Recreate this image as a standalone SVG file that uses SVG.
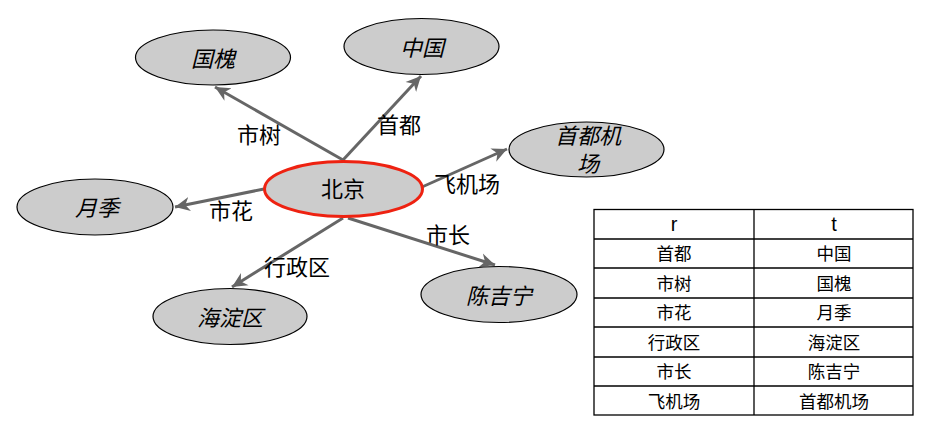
<svg xmlns="http://www.w3.org/2000/svg" width="928" height="423" viewBox="0 0 928 423">
<style>
.node ellipse{fill:#cccccc;stroke:#000;stroke-width:1.2}
.node text{font-family:"Liberation Sans","Noto Sans CJK SC",sans-serif;font-size:22px;font-style:italic;fill:#000;text-anchor:middle}
.edge{stroke:#666;stroke-width:3;fill:none;marker-end:url(#ah)}
.lbl{font-family:"Liberation Sans","Noto Sans CJK SC",sans-serif;font-size:22px;fill:#000;text-anchor:middle}
.cell{font-family:"Liberation Sans","Noto Sans CJK SC",sans-serif;font-size:17.5px;fill:#000;text-anchor:middle}
.tbl line,.tbl rect{stroke:#000;stroke-width:1.3;fill:none}
</style>
<defs>
<marker id="ah" markerWidth="6" markerHeight="6" refX="5" refY="3" orient="auto" markerUnits="strokeWidth">
<path d="M0,0.6 L5,3 L0,5.4 L1.5,3 Z" fill="#666"/>
</marker>
</defs>
<rect width="928" height="423" fill="#fff"/>
<g id="edges">
<line class="edge" x1="343" y1="160" x2="215" y2="87"/>
<line class="edge" x1="343" y1="160" x2="421" y2="76"/>
<line class="edge" x1="422" y1="187" x2="507" y2="149"/>
<line class="edge" x1="264" y1="189" x2="175" y2="207"/>
<line class="edge" x1="343" y1="218" x2="232" y2="287"/>
<line class="edge" x1="348" y1="218" x2="495" y2="265"/>
<text class="lbl" x="259" y="143">市树</text>
<text class="lbl" x="399" y="133">首都</text>
<text class="lbl" x="467" y="192">飞机场</text>
<text class="lbl" x="231" y="219">市花</text>
<text class="lbl" x="448" y="243">市长</text>
<text class="lbl" x="297" y="275">行政区</text>
</g>
<g id="n-guohuai" class="node"><ellipse cx="213" cy="57.5" rx="77.5" ry="27.5"/><text x="213" y="67">国槐</text></g>
<g id="n-zhongguo" class="node"><ellipse cx="421.5" cy="46.5" rx="77.5" ry="28"/><text x="422" y="56">中国</text></g>
<g id="n-beijing" class="node"><ellipse cx="343.5" cy="189" rx="79" ry="27.5" style="stroke:#ee2211;stroke-width:3"/><text x="343" y="197" style="font-style:normal">北京</text></g>
<g id="n-yueji" class="node"><ellipse cx="95" cy="207" rx="78" ry="28"/><text x="97" y="216">月季</text></g>
<g id="n-haidian" class="node"><ellipse cx="230" cy="316.5" rx="77" ry="28"/><text x="230" y="326">海淀区</text></g>
<g id="n-airport" class="node"><ellipse cx="586.5" cy="149.5" rx="77.5" ry="27.5"/><text x="588" y="144">首都机</text><text x="588" y="172">场</text></g>
<g id="n-chen" class="node"><ellipse cx="499" cy="294.5" rx="78" ry="28"/><text x="499" y="304">陈吉宁</text></g>
<g id="table" class="tbl">
<rect x="594" y="209.5" width="319" height="205.5"/>
<line x1="754" y1="209.5" x2="754" y2="415"/>
<line x1="594" y1="239" x2="913" y2="239"/>
<line x1="594" y1="268" x2="913" y2="268"/>
<line x1="594" y1="298" x2="913" y2="298"/>
<line x1="594" y1="327" x2="913" y2="327"/>
<line x1="594" y1="357" x2="913" y2="357"/>
<line x1="594" y1="386" x2="913" y2="386"/>
<text class="cell" x="674" y="231" style="font-size:20px">r</text><text class="cell" x="834" y="231" style="font-size:20px">t</text>
<text class="cell" x="674" y="260">首都</text><text class="cell" x="834" y="260">中国</text>
<text class="cell" x="674" y="290">市树</text><text class="cell" x="834" y="290">国槐</text>
<text class="cell" x="674" y="319">市花</text><text class="cell" x="834" y="319">月季</text>
<text class="cell" x="674" y="349">行政区</text><text class="cell" x="834" y="349">海淀区</text>
<text class="cell" x="674" y="378">市长</text><text class="cell" x="834" y="378">陈吉宁</text>
<text class="cell" x="674" y="408">飞机场</text><text class="cell" x="834" y="408">首都机场</text>
</g>
</svg>
